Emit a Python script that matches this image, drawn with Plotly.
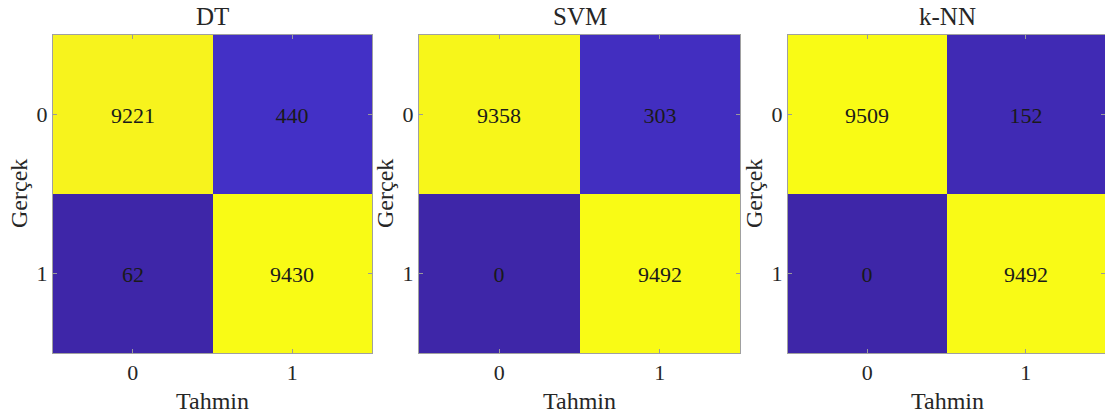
import plotly.graph_objects as go

titles = ["DT", "SVM", "k-NN"]
class_labels = ["0", "1"]
dt_matrix = [[9221, 440], [62, 9430]]
svm_matrix = [[9358, 303], [0, 9492]]
knn_matrix = [[9509, 152], [0, 9492]]
matrices = [dt_matrix, svm_matrix, knn_matrix]

parula = [
    [0.2422, 0.1504, 0.6603], [0.2504, 0.1650, 0.7076], [0.2578, 0.1818, 0.7511],
    [0.2647, 0.1978, 0.7952], [0.2706, 0.2147, 0.8364], [0.2751, 0.2342, 0.8710],
    [0.2783, 0.2559, 0.8991], [0.2803, 0.2782, 0.9221], [0.2813, 0.3006, 0.9414],
    [0.2810, 0.3228, 0.9579], [0.2795, 0.3447, 0.9717], [0.2760, 0.3667, 0.9829],
    [0.2699, 0.3892, 0.9906], [0.2602, 0.4123, 0.9952], [0.2440, 0.4358, 0.9988],
    [0.2206, 0.4603, 0.9973], [0.1963, 0.4847, 0.9892], [0.1834, 0.5074, 0.9798],
    [0.1786, 0.5289, 0.9682], [0.1764, 0.5499, 0.9520], [0.1687, 0.5703, 0.9359],
    [0.1540, 0.5902, 0.9218], [0.1460, 0.6091, 0.9079], [0.1380, 0.6276, 0.8973],
    [0.1248, 0.6459, 0.8883], [0.1113, 0.6635, 0.8763], [0.0952, 0.6798, 0.8598],
    [0.0689, 0.6948, 0.8394], [0.0297, 0.7082, 0.8163], [0.0036, 0.7203, 0.7917],
    [0.0067, 0.7312, 0.7660], [0.0433, 0.7411, 0.7394], [0.0964, 0.7500, 0.7120],
    [0.1408, 0.7584, 0.6842], [0.1717, 0.7670, 0.6554], [0.1938, 0.7758, 0.6251],
    [0.2161, 0.7843, 0.5923], [0.2470, 0.7918, 0.5567], [0.2906, 0.7973, 0.5188],
    [0.3406, 0.8008, 0.4789], [0.3909, 0.8029, 0.4354], [0.4456, 0.8024, 0.3909],
    [0.5044, 0.7993, 0.3480], [0.5616, 0.7942, 0.3045], [0.6174, 0.7876, 0.2612],
    [0.6720, 0.7793, 0.2227], [0.7242, 0.7698, 0.1910], [0.7738, 0.7598, 0.1646],
    [0.8203, 0.7498, 0.1535], [0.8634, 0.7406, 0.1596], [0.9035, 0.7330, 0.1774],
    [0.9393, 0.7288, 0.2100], [0.9728, 0.7298, 0.2394], [0.9956, 0.7434, 0.2371],
    [0.9970, 0.7659, 0.2199], [0.9952, 0.7893, 0.2028], [0.9892, 0.8136, 0.1885],
    [0.9786, 0.8386, 0.1766], [0.9676, 0.8639, 0.1643], [0.9610, 0.8890, 0.1537],
    [0.9597, 0.9135, 0.1423], [0.9628, 0.9373, 0.1265], [0.9691, 0.9606, 0.1064],
    [0.9769, 0.9839, 0.0805],
]
n = len(parula)
colorscale = [
    [i / (n - 1), "rgb(%d,%d,%d)" % tuple(round(c * 255) for c in rgb)]
    for i, rgb in enumerate(parula)
]

W, H = 1105, 419
x_domains = [(53, 372), (419, 740), (788, 1105)]
top_px, bottom_px = 35, 353

FONT = "Liberation Serif"
fig = go.Figure()
annotations = []

for i, (title, m) in enumerate(zip(titles, matrices)):
    flat = [v for row in m for v in row]
    fig.add_trace(go.Heatmap(
        z=m, x=[0, 1], y=[0, 1],
        zmin=min(flat), zmax=max(flat),
        colorscale=colorscale, showscale=False,
        text=[[str(v) for v in row] for row in m],
        texttemplate="%{text}",
        textfont=dict(family=FONT, size=22, color="#1a1a1a"),
        xaxis="x" if i == 0 else "x%d" % (i + 1),
        yaxis="y" if i == 0 else "y%d" % (i + 1),
        hoverinfo="skip",
    ))
    x0, x1 = x_domains[i]
    xname = "xaxis" if i == 0 else "xaxis%d" % (i + 1)
    yname = "yaxis" if i == 0 else "yaxis%d" % (i + 1)
    fig.layout[xname] = dict(
        domain=[x0 / W, min(x1 / W, 1.0)], range=[-0.5, 1.5],
        anchor="y" if i == 0 else "y%d" % (i + 1),
    )
    fig.layout[yname] = dict(
        domain=[1 - bottom_px / H, 1 - top_px / H], range=[1.5, -0.5],
        anchor="x" if i == 0 else "x%d" % (i + 1),
    )
    cx = (x0 + (x1 if i < 2 else 1107)) / 2
    annotations.append(dict(
        text=title, x=cx / W, y=1 - 17 / H, xref="paper", yref="paper",
        xanchor="center", yanchor="middle", showarrow=False,
        font=dict(family=FONT, size=25, color="#262626"),
    ))
    annotations.append(dict(
        text="Tahmin", x=cx / W, y=1 - 401 / H, xref="paper", yref="paper",
        xanchor="center", yanchor="middle", showarrow=False,
        font=dict(family=FONT, size=24, color="#262626"),
    ))
    annotations.append(dict(
        text="Gerçek", x=(x0 - 34) / W, y=1 - 194 / H, xref="paper", yref="paper",
        xanchor="center", yanchor="middle", showarrow=False, textangle=-90,
        font=dict(family=FONT, size=24, color="#262626"),
    ))

axis_style = dict(
    tickmode="array", tickvals=[0, 1], ticktext=class_labels,
    ticks="inside", ticklen=4, tickcolor="#9a9a9a",
    showline=True, linecolor="#a0a0a0", linewidth=1, mirror="ticks",
    showgrid=False, zeroline=False,
    tickfont=dict(family=FONT, size=22, color="#262626"),
)
fig.update_xaxes(**axis_style)
fig.update_yaxes(**axis_style)

fig.update_layout(
    width=W, height=H, margin=dict(l=0, r=0, t=0, b=0),
    paper_bgcolor="white", plot_bgcolor="white",
    annotations=annotations, showlegend=False,
    font=dict(family=FONT, size=22, color="#262626"),
)
fig.write_html("out.html")
